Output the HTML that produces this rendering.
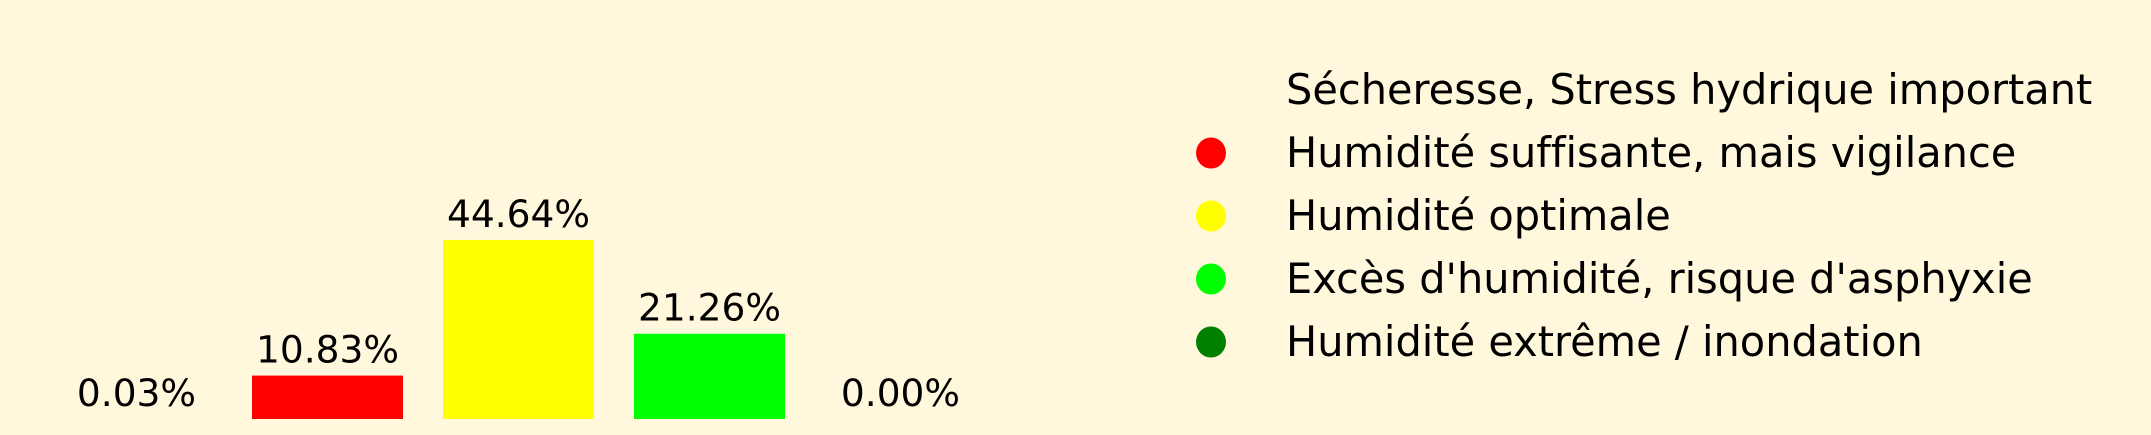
<!DOCTYPE html>
<html><head><meta charset="utf-8"><style>
html,body{margin:0;padding:0;background:#fff8dc;}
svg{display:block;font-family:"DejaVu Sans","Liberation Sans",sans-serif;font-variant-ligatures:none;}
</style></head><body>
<svg id="chart" width="2151" height="435" viewBox="0 0 2151 435" xmlns="http://www.w3.org/2000/svg">
<rect width="2151" height="435" fill="#fff8dc"/>
<g id="bars"></g>
<g id="legend"></g>
</svg>
<script>
const categories = ["Sécheresse, Stress hydrique important","Humidité suffisante, mais vigilance","Humidité optimale","Excès d'humidité, risque d'asphyxie","Humidité extrême / inondation"];
const values = [0.03, 10.83, 44.64, 21.26, 0.00];
const valueLabels = ["0.03%","10.83%","44.64%","21.26%","0.00%"];
const colors = ["transparent","#ff0000","#ffff00","#00ff00","#008000"];

const NS = "http://www.w3.org/2000/svg";
const baseY = 419, pxPerUnit = 4.01;
const firstCenter = 136.5, step = 191, barW = 151;
function xScale(i){ return firstCenter + i*step; }
function yScale(v){ return baseY - v*pxPerUnit; }

const bars = document.getElementById('bars');
values.forEach((v,i)=>{
  const r = document.createElementNS(NS,'rect');
  
  
  r.setAttribute('x', xScale(i)-barW/2);
  r.setAttribute('y', yScale(v));
  r.setAttribute('width', barW);
  r.setAttribute('height', Math.max(0, baseY - yScale(v)));
  r.setAttribute('fill', colors[i]);
  bars.appendChild(r);
  const t = document.createElementNS(NS,'text');
  
  
  t.setAttribute('x', xScale(i));
  t.setAttribute('y', yScale(v) - 13);
  t.setAttribute('text-anchor','middle');
  t.setAttribute('font-size','37.5');
  t.setAttribute('fill','#000');
  t.textContent = valueLabels[i];
  bars.appendChild(t);
});

const legend = document.getElementById('legend');
const legY0 = 89, legStep = 63;
categories.forEach((c,i)=>{
  const y = legY0 + i*legStep;
  const d = document.createElementNS(NS,'ellipse');
  
  
  d.setAttribute('cx', 1211); d.setAttribute('cy', y + 1);
  d.setAttribute('rx', 15); d.setAttribute('ry', 15.5);
  d.setAttribute('fill', colors[i]);
  legend.appendChild(d);
  const t = document.createElementNS(NS,'text');
  
  
  t.setAttribute('x', 1286); t.setAttribute('y', y + 15);
  t.setAttribute('font-size','41.5');
  t.setAttribute('fill','#000');
  t.textContent = c;
  legend.appendChild(t);
});
</script>
</body></html>
